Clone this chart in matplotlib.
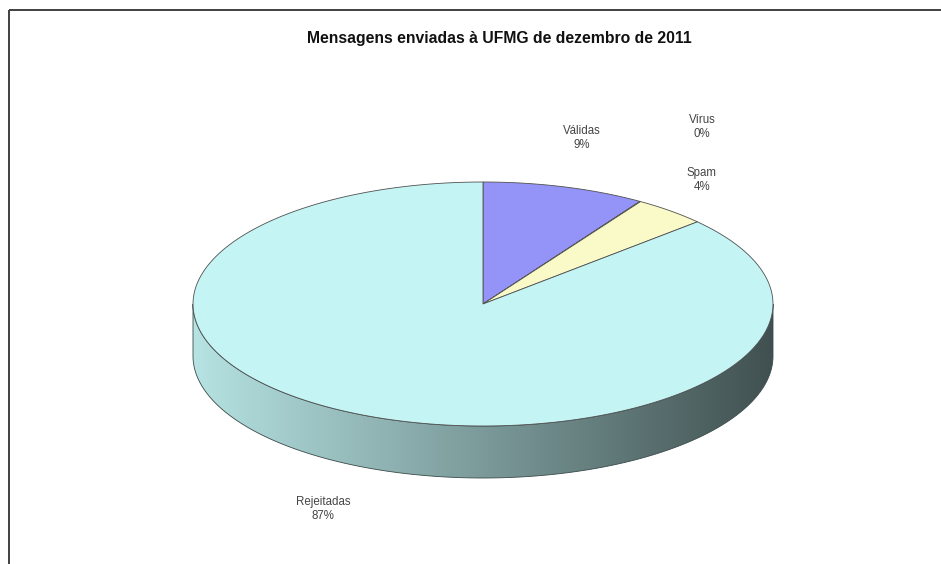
'''
Excel-style 3D pie of the messages sent to UFMG in December 2011.
'''

from matplotlib import pyplot as pl
from matplotlib.patches import Polygon, Rectangle
from matplotlib.colors import to_rgb

import numpy as np

# Data
categories = ['Válidas', 'Vírus', 'Spam', 'Rejeitadas']
shares = [9.1, 0.04, 4.1, 86.76]  # percent of messages
colors = ['#9494f8', '#993366', '#fafac8', '#c4f4f4']
title = 'Mensagens enviadas à UFMG de dezembro de 2011'

# Layout (pixel coordinates, y down)
cx, cy = 483, 304  # centre of the top face
rx, ry = 290, 122  # radii of the top face
depth = 52  # thickness of the pie
label_xy = [(582, 138), (702, 127), (702, 180), (323, 509)]

fig = pl.figure(figsize=(9.41, 5.64), dpi=100)
ax = fig.add_axes([0, 0, 1, 1])
ax.set_xlim(0, 941)
ax.set_ylim(564, 0)
ax.axis('off')

# Frame of the chart area
ax.add_patch(Rectangle((9, 10), 1000, 1000, fill=False, ec='#404040', lw=1.4))

# Slice angles, clockwise from 12 o'clock
total = float(sum(shares))
cum = np.concatenate([[0], np.cumsum(shares)])/total
t_start = 90 - 360*cum[:-1]
t_end = 90 - 360*cum[1:]


def arc(t0, t1, dy=0, n=200):
    t = np.radians(np.linspace(t0, t1, n))
    return np.column_stack([cx + rx*np.cos(t), cy + dy - ry*np.sin(t)])


# Side walls, only the front half (angles -180..0, or -540..-360) shows
for a, b, col in zip(t_start, t_end, colors):
    for lo_f, hi_f in ((-180, 0), (-540, -360)):
        hi = min(a, hi_f)
        lo = max(b, lo_f)
        if hi <= lo:
            continue

        top = arc(hi, lo)
        bot = arc(lo, hi, dy=depth)
        poly = Polygon(np.vstack([top, bot]), closed=True, fc='none',
                       ec='#3a4a4a', lw=0.6, zorder=3)
        ax.add_patch(poly)

        # Horizontal shading, light on the left, dark on the right
        xs = np.linspace(0, 1, 300)
        shade = 0.93 - 0.6*xs
        img = np.array(to_rgb(col))[None, None, :]*shade[None, :, None]
        im = ax.imshow(np.clip(img, 0, 1),
                       extent=[cx - rx, cx + rx, cy + ry + depth, cy - ry],
                       aspect='auto', interpolation='bilinear', zorder=2)
        im.set_clip_path(poly)

# Top face
for a, b, col in zip(t_start, t_end, colors):
    pts = np.vstack([[cx, cy], arc(a, b)])
    ax.add_patch(Polygon(pts, closed=True, fc=col, ec='#505050', lw=0.6,
                         zorder=4))

ax.set_xlim(0, 941)
ax.set_ylim(564, 0)

# Labels
for name, val, (x, y) in zip(categories, shares, label_xy):
    ax.text(x, y, name+'\n'+'{:.0f}%'.format(val), ha='center', va='center',
            fontsize=8.3, family='Liberation Sans', color='#444444',
            linespacing=1.2)

ax.text(499, 38, title, ha='center', va='center', fontsize=11.3,
        family='Liberation Sans', weight='bold', color='#111111')

pl.savefig('out.png', dpi=100)
pl.close('all')
